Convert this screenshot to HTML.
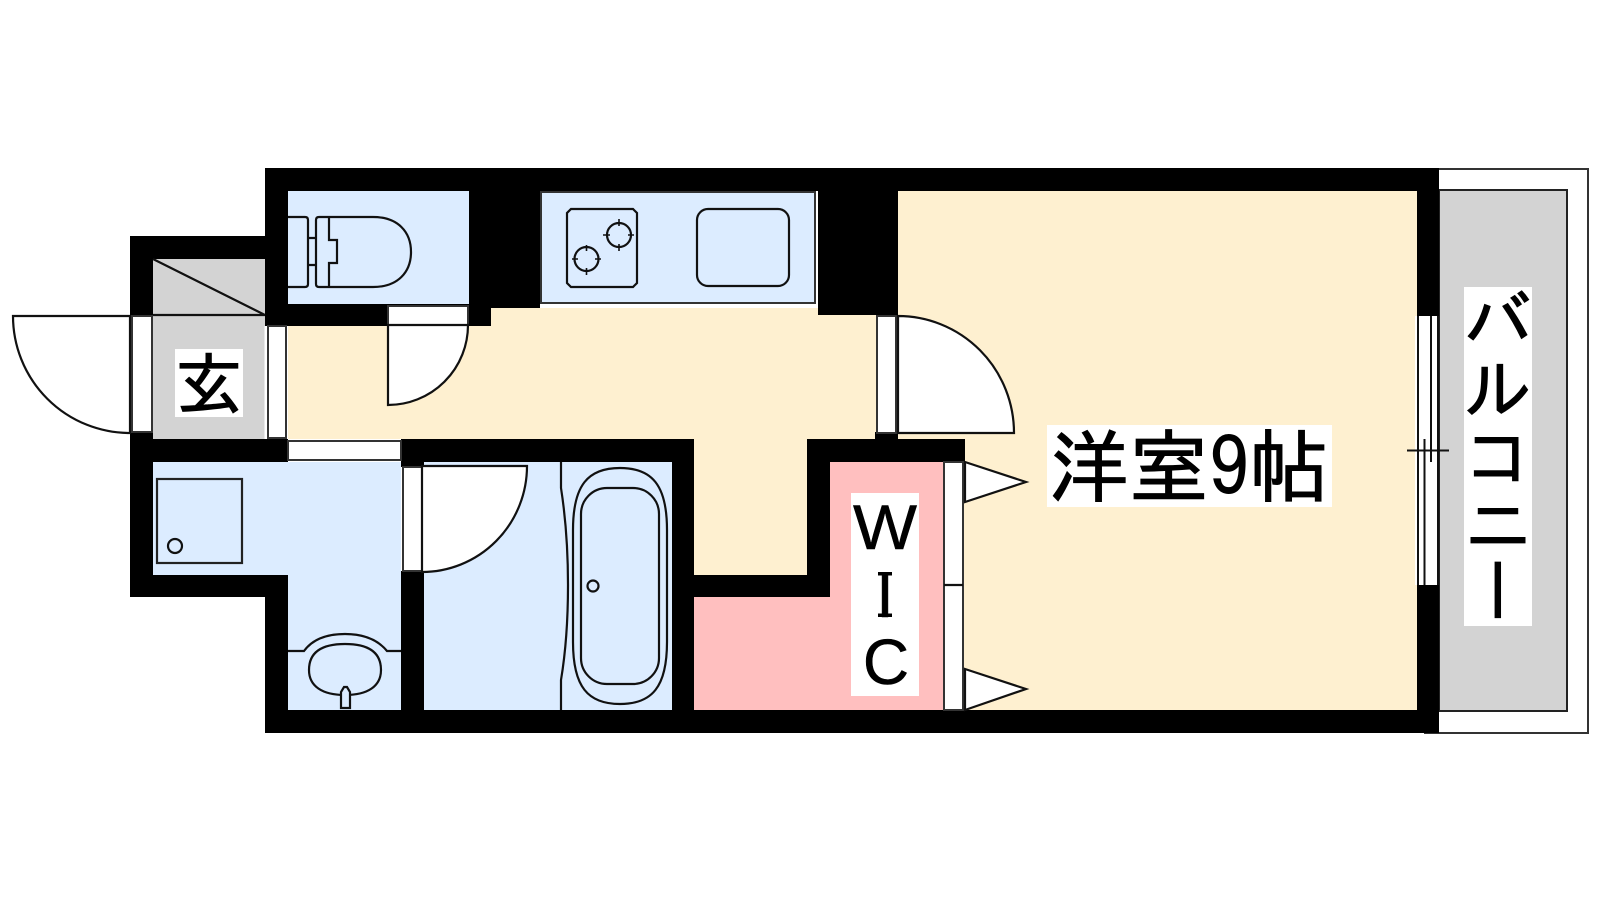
<!DOCTYPE html>
<html><head><meta charset="utf-8"><style>
html,body{margin:0;padding:0;background:#fff;width:1600px;height:900px;overflow:hidden}
svg{display:block}
.j{font-family:"IPAGothic","Noto Sans CJK JP",sans-serif;fill:#000;stroke:#000;stroke-width:1}
.l{fill:none;stroke:#111;stroke-width:2.2}
.t{fill:none;stroke:#111;stroke-width:1.6}
.w{fill:#fff;stroke:#333;stroke-width:2}
.d{fill:#fff;stroke:#111;stroke-width:2.2}
.s{font-family:"Liberation Sans",sans-serif;fill:#000;stroke:#000;stroke-width:.5}
</style></head><body>
<svg width="1600" height="900" viewBox="0 0 1600 900" xmlns="http://www.w3.org/2000/svg">
<!-- balcony -->
<rect x="1425" y="169" width="163" height="564" fill="#fff" stroke="#333" stroke-width="2"/>
<rect x="1439" y="190" width="128" height="521" fill="#d3d3d3" stroke="#222" stroke-width="2"/>
<!-- floor beige -->
<path d="M898 191H1417V710H945V439H694V326H288V439H288V326H491V308H898Z" fill="#fef0d0"/>
<rect x="288" y="326" width="630" height="113" fill="#fef0d0"/>
<rect x="694" y="430" width="113" height="150" fill="#fef0d0"/>
<!-- pink -->
<path d="M830 462H945V710H694V597H830Z" fill="#ffbfbf"/>
<!-- gray entry -->
<rect x="153" y="259" width="114" height="180" fill="#d3d3d3"/>
<!-- blue rooms -->
<rect x="288" y="191" width="181" height="115" fill="#dcecff"/>
<path d="M153 462H401V710H288V575H153Z" fill="#dcecff"/>
<rect x="424" y="462" width="248" height="248" fill="#dcecff"/>
<rect x="541" y="192" width="274" height="111" fill="#dcecff" stroke="#333" stroke-width="2"/>
<!-- walls -->
<g fill="#000">
<rect x="265" y="168" width="1174" height="23"/>
<rect x="130" y="236" width="135" height="23"/>
<rect x="130" y="236" width="23" height="79"/>
<rect x="265" y="168" width="23" height="158"/>
<rect x="265" y="304" width="226" height="22"/>
<rect x="469" y="191" width="71" height="117"/>
<rect x="469" y="300" width="22" height="26"/>
<rect x="818" y="191" width="80" height="124"/>
<rect x="1417" y="168" width="22" height="148"/>
<rect x="1417" y="585" width="22" height="148"/>
<rect x="130" y="432" width="23" height="165"/>
<rect x="130" y="439" width="158" height="23"/>
<rect x="130" y="575" width="158" height="22"/>
<rect x="265" y="575" width="23" height="158"/>
<rect x="265" y="710" width="1174" height="23"/>
<rect x="401" y="439" width="293" height="23"/>
<rect x="401" y="571" width="23" height="150"/>
<rect x="401" y="439" width="23" height="28"/>
<rect x="672" y="439" width="22" height="280"/>
<rect x="672" y="575" width="158" height="22"/>
<rect x="807" y="439" width="23" height="158"/>
<rect x="807" y="439" width="158" height="23"/>
<rect x="875" y="432" width="23" height="8"/>
</g>
<!-- toilet door -->
<rect x="388" y="306" width="80" height="19" class="w"/>
<path d="M388 325V405A80 80 0 0 0 468 325Z" class="d"/>
<!-- entrance door -->
<path d="M13 316H130V433A117 117 0 0 1 13 316Z" class="d"/>
<rect x="132" y="316" width="20" height="116" class="w"/>
<path d="M153 259L265 315M153 315H265" class="l"/>
<!-- inner entry door frame -->
<rect x="264.500" y="326" width="23.500" height="113" fill="#fff"/>
<rect x="268" y="326" width="18" height="112" class="w"/>
<!-- washroom door top -->
<rect x="288" y="439" width="113" height="23" fill="#fff"/>
<rect x="288" y="441" width="113" height="19" class="w"/>
<!-- toilet -->
<path d="M288 217H305Q308 217 308 220V284Q308 287 305 287H288M308 238H316M308 265H316M319 217H373C398 217 411 232 411 252C411 272 398 287 373 287H319Q316 287 316 284V220Q316 217 319 217ZM329 217V240H337V263H329V287" class="l"/>
<!-- stove -->
<path d="M571 209H633L637 213V283L633 287H571L567 283V213Z" class="l"/>
<circle cx="619" cy="235" r="12" class="l"/>
<circle cx="586.500" cy="259" r="12" class="l"/>
<path d="M619 219V226M619 244V251M603 235H610M628 235H634M586.500 245V251M586.500 268V275M572 259H578M595 259H601" class="t"/>
<rect x="697" y="209" width="92" height="77" rx="11" class="l"/>
<!-- room door -->
<rect x="877" y="316" width="19" height="117" class="w"/>
<path d="M898 316A116 117 0 0 1 1014 433H898Z" class="d"/>
<!-- WIC doors -->
<rect x="944" y="462" width="19" height="248" class="w"/>
<path d="M944 585H963" class="l"/>
<path d="M965 462L1026 482L965 502Z" class="d"/>
<path d="M965 669L1026 689L965 710Z" class="d"/>
<!-- washing pan -->
<rect x="157" y="479" width="85" height="84" fill="none" stroke="#222" stroke-width="2.2"/>
<circle cx="175" cy="546" r="7" class="l"/>
<!-- basin -->
<path d="M288 651H304C312 640 325 634 345 634C365 634 378 640 387 651H401" class="l"/>
<path d="M345 644C368 644 381 652 381 670C381 686 368 695 345 695C322 695 309 686 309 670C309 652 322 644 345 644Z" class="l"/>
<path d="M341 708V692L344 687H347L350 692V708Z" fill="#dcecff" stroke="#111" stroke-width="2.2"/>
<!-- bath door -->
<rect x="403" y="467" width="19" height="104" class="w"/>
<path d="M422 466H527A105 106 0 0 1 422 572Z" class="d"/>
<!-- tub -->
<path d="M561 462V488C566 520 568 550 568 585C568 620 566 650 561 680V710" class="l"/>
<path d="M620 468C652 468 667 485 667 530V642C667 687 652 704 620 704C588 704 573 687 573 642V530C573 485 588 468 620 468Z" class="l"/>
<rect x="581" y="488" width="78" height="196" rx="26" class="l"/>
<circle cx="593" cy="586" r="5.500" class="l"/>
<!-- balcony window -->
<rect x="1415" y="316" width="24" height="269" fill="#fff"/>
<path d="M1418 316V585M1438 316V585M1431 316V462M1424.500 439V585M1407 450.500H1449" fill="none" stroke="#111" stroke-width="2"/>
<!-- labels -->
<rect x="175" y="349" width="68" height="68" fill="#fff"/>
<text x="175" y="409" class="j" font-size="68">玄</text>
<rect x="1047" y="425" width="285" height="82" fill="#fff"/>
<text x="1049" y="496" class="j" font-size="80">洋室9帖</text>
<rect x="851" y="493" width="68" height="203" fill="#fff"/>
<text x="885" y="549" text-anchor="middle" class="s" font-size="63" textLength="64" lengthAdjust="spacingAndGlyphs">W</text>
<text x="885" y="617" text-anchor="middle" class="s" font-size="63">I</text>
<rect x="878" y="572" width="14" height="3.500" fill="#000"/>
<rect x="878" y="613.500" width="14" height="3.500" fill="#000"/>
<text x="886" y="684" text-anchor="middle" class="s" font-size="64">C</text>
<rect x="1464" y="287" width="68" height="339" fill="#fff"/>
<text x="1464" y="346" class="j" font-size="68">バ</text>
<text x="1464" y="414" class="j" font-size="68">ル</text>
<text x="1464" y="482" class="j" font-size="68">コ</text>
<text x="1464" y="550" class="j" font-size="68">ニ</text>
<text x="1498" y="616" text-anchor="middle" class="j" font-size="68" transform="rotate(90 1498 590)">ー</text>
</svg>
</body></html>
